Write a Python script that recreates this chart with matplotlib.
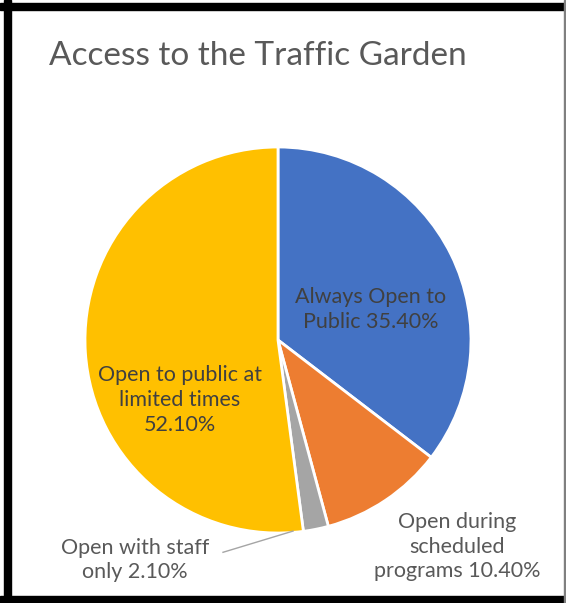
import numpy as np
import matplotlib.pyplot as plt
from matplotlib.patches import Rectangle

# slices, clockwise from 12 o'clock
labels = ["Always Open to\nPublic", "Open during\nscheduled\nprograms",
          "Open with staff\nonly", "Open to public at\nlimited times\n"]
shares = [35.4, 10.4, 2.1, 52.1]
colors = ["#4472C4", "#ED7D31", "#A5A5A5", "#FFC000"]

plt.rcParams['font.family'] = ['Lato', 'DejaVu Sans']

fig = plt.figure(figsize=(5.66, 6.03), dpi=100)

# frame round the chart
fig.patches.append(Rectangle((4/566, 0), 7/566, 1, transform=fig.transFigure, color="black"))
fig.patches.append(Rectangle((0, 1 - 10/603), 1, 7/603, transform=fig.transFigure, color="black"))
fig.patches.append(Rectangle((0, 0), 1, 7/603, transform=fig.transFigure, color="black"))
fig.patches.append(Rectangle((1 - 2/566, 0), 1.5/566, 1, transform=fig.transFigure, color="#808080"))

fig.text(0.455, 1 - 56/603, "Access to the Traffic Garden", ha="center", va="center",
         fontsize=24, color="#595959")

cx, cy, r = 278, 340, 193
ax = fig.add_axes([(cx - r)/566, (603 - cy - r)/603, 2*r/566, 2*r/603])
wedges, _ = ax.pie(shares, colors=colors, startangle=90, counterclock=False,
                   wedgeprops=dict(edgecolor="white", linewidth=2))
ax.set_xlim(-1, 1)
ax.set_ylim(-1, 1)
ax.axis("off")

texts = [f"{l} {s:.2f}%" if not l.endswith("\n") else f"{l}{s:.2f}%"
         for l, s in zip(labels, shares)]
pos = [(0.48, 0.16), (0.93, -1.07), (-0.74, -1.14), (-0.51, -0.31)]
cols = ["#404040", "#595959", "#595959", "#404040"]
for t, p, c in zip(texts, pos, cols):
    ax.text(p[0], p[1], t, ha="center", va="center", fontsize=15.5,
            color=c, linespacing=1.3)

# leader line for the small slice
ax.plot([0.078, -0.285], [-0.99, -1.10], color="#A5A5A5", lw=1, clip_on=False)

fig.savefig("out.png", dpi=100)
